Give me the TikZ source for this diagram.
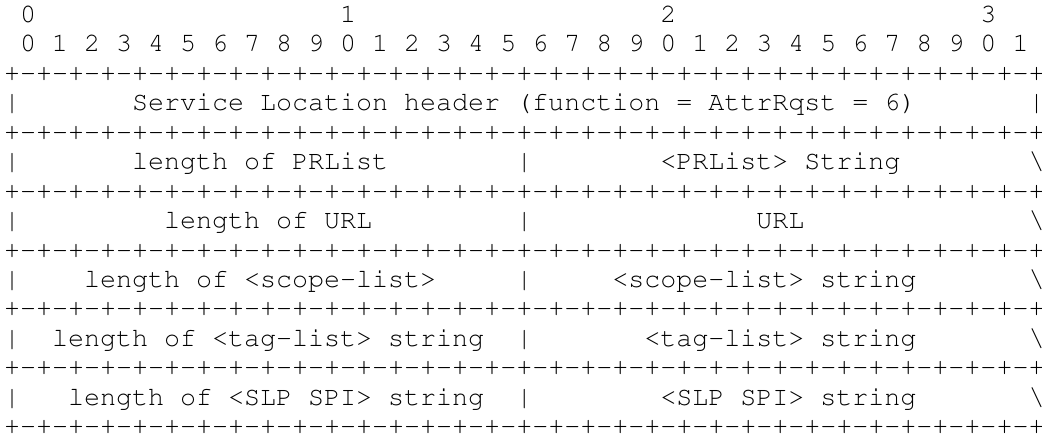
\documentclass[tikz,border=0pt]{standalone}
\usepackage[T1]{fontenc}
\newcommand\asciimono{\fontencoding{T1}\fontfamily{pcr}\fontseries{m}\fontshape{n}}
\newcommand\brd{+-+-+-+-+-+-+-+-+-+-+-+-+-+-+-+-+-+-+-+-+-+-+-+-+-+-+-+-+-+-+-+-+}
\begin{document}
\begin{tikzpicture}[x=1bp,y=-1bp,
  ln/.style={anchor=base west,inner sep=0pt,outer sep=0pt,
    font=\asciimono\fontsize{26.78pt}{29.5pt}\selectfont}]
\useasboundingbox (0,0) rectangle (1042,435);
\def\pitch{29.44}
\node[ln] (r1)  at (4,{22.5+0*\pitch})  {~0~~~~~~~~~~~~~~~~~~~1~~~~~~~~~~~~~~~~~~~2~~~~~~~~~~~~~~~~~~~3};
\node[ln] (r2)  at (4,{22.5+1*\pitch})  {~0~1~2~3~4~5~6~7~8~9~0~1~2~3~4~5~6~7~8~9~0~1~2~3~4~5~6~7~8~9~0~1};
\node[ln] (r3)  at (4,{22.5+2*\pitch})  {\brd};
\node[ln] (r4)  at (4,{22.5+3*\pitch})  {|~~~~~~~Service~Location~header~(function~=~AttrRqst~=~6)~~~~~~~|};
\node[ln] (r5)  at (4,{22.5+4*\pitch})  {\brd};
\node[ln] (r6)  at (4,{22.5+5*\pitch})  {|~~~~~~~length~of~PRList~~~~~~~~|~~~~~~~~<PRList>~String~~~~~~~~\textbackslash};
\node[ln] (r7)  at (4,{22.5+6*\pitch})  {\brd};
\node[ln] (r8)  at (4,{22.5+7*\pitch})  {|~~~~~~~~~length~of~URL~~~~~~~~~|~~~~~~~~~~~~~~URL~~~~~~~~~~~~~~\textbackslash};
\node[ln] (r9)  at (4,{22.5+8*\pitch})  {\brd};
\node[ln] (r10) at (4,{22.5+9*\pitch})  {|~~~~length~of~<scope-list>~~~~~|~~~~~<scope-list>~string~~~~~~~\textbackslash};
\node[ln] (r11) at (4,{22.5+10*\pitch}) {\brd};
\node[ln] (r12) at (4,{22.5+11*\pitch}) {|~~length~of~<tag-list>~string~~|~~~~~~~<tag-list>~string~~~~~~~\textbackslash};
\node[ln] (r13) at (4,{22.5+12*\pitch}) {\brd};
\node[ln] (r14) at (4,{22.5+13*\pitch}) {|~~~length~of~<SLP~SPI>~string~~|~~~~~~~~<SLP~SPI>~string~~~~~~~\textbackslash};
\node[ln] (r15) at (4,{22.5+14*\pitch}) {\brd};
\end{tikzpicture}
\end{document}
